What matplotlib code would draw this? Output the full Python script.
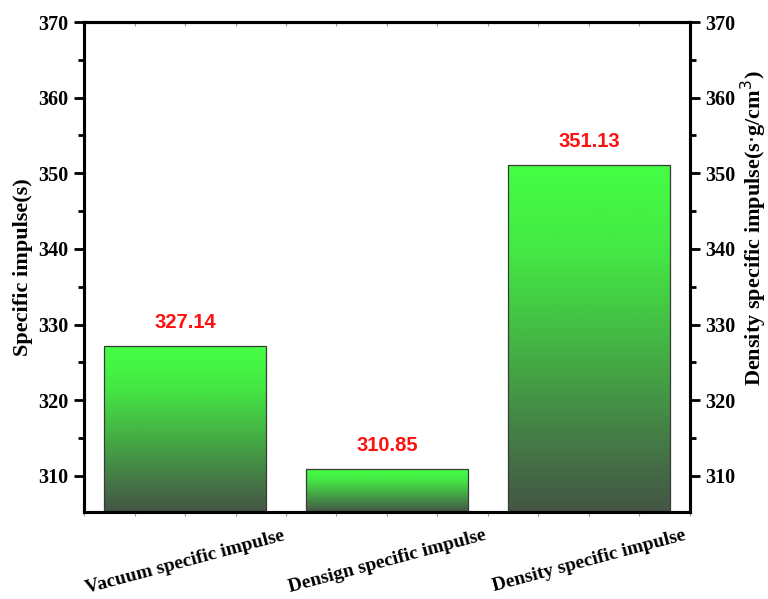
import numpy as np
import matplotlib
matplotlib.use("Agg")
import matplotlib.pyplot as plt
from matplotlib.colors import LinearSegmentedColormap
from matplotlib.ticker import MultipleLocator, NullFormatter

categories = ["Vacuum specific impulse", "Densign specific impulse", "Density specific impulse"]
values = [327.14, 310.85, 351.13]
y_ticks = [310, 320, 330, 340, 350, 360, 370]

serif = ["Liberation Serif", "DejaVu Serif"]
sans = ["Liberation Sans", "DejaVu Sans"]

fig = plt.figure(figsize=(7.68, 5.99), dpi=100)
ax = fig.add_axes([0.1094, 0.1452, 0.789, 0.818])

ymin, ymax = 305.2, 370
x = np.arange(len(categories))
width = 0.8

# green-to-dark vertical gradient used to fill each bar
cmap = LinearSegmentedColormap.from_list(
    "bar_grad",
    [(0.0, "#445544"), (0.2, "#457a47"), (0.5, "#44b844"),
     (0.75, "#44e844"), (1.0, "#44ff44")],
)
grad = np.linspace(0, 1, 256).reshape(-1, 1)

bars = ax.bar(x, [v - ymin for v in values], width=width, bottom=ymin,
              facecolor="none", edgecolor="#3a3a3a", linewidth=0.9, zorder=3)
for b, v in zip(bars, values):
    x0 = b.get_x()
    im = ax.imshow(grad, cmap=cmap, origin="lower", aspect="auto",
                   extent=[x0, x0 + width, ymin, v], zorder=2)
    im.set_clip_path(b)
    ax.annotate(f"{v:.2f}", (b.get_x() + width / 2, v), xytext=(0, 10),
                textcoords="offset points", ha="center", va="bottom",
                color="#ff1010", fontsize=14.5, fontweight="bold", family=sans)

ax.set_xlim(-0.5, 2.5)
ax.set_ylim(ymin, ymax)

ax.set_yticks(y_ticks)
ax.yaxis.set_minor_locator(MultipleLocator(5))
ax.set_yticklabels([str(t) for t in y_ticks], family=serif, fontweight="bold", fontsize=14.5)
ax.tick_params(axis="y", which="major", direction="out", length=7, width=2, pad=4)
ax.tick_params(axis="y", which="minor", direction="out", length=4, width=2)

ax.set_xticks(x)
ax.set_xticklabels(categories, rotation=15, ha="center", va="top",
                   family=serif, fontweight="bold", fontsize=14)
ax.xaxis.set_minor_locator(MultipleLocator(0.25))
ax.tick_params(axis="x", which="both", direction="out", length=3, width=0.8,
               color="#999999", pad=8)

# inward ticks along the top edge
top = ax.secondary_xaxis("top")
top.set_xticks(x)
top.xaxis.set_minor_locator(MultipleLocator(0.25))
top.xaxis.set_major_formatter(NullFormatter())
top.tick_params(axis="x", which="both", direction="in", length=3, width=0.8,
                color="#999999")
top.spines["top"].set_linewidth(2.2)

for s in ax.spines.values():
    s.set_linewidth(2.2)

ax.set_ylabel("Specific impulse(s)", family=serif, fontweight="bold", fontsize=16, labelpad=4)

ax2 = ax.twinx()
ax2.set_ylim(ymin, ymax)
ax2.set_yticks(y_ticks)
ax2.yaxis.set_minor_locator(MultipleLocator(5))
ax2.set_yticklabels([str(t) for t in y_ticks], family=serif, fontweight="bold", fontsize=14.5)
ax2.tick_params(axis="y", which="major", direction="out", length=7, width=2, pad=4)
ax2.tick_params(axis="y", which="minor", direction="out", length=4, width=2)
for s in ax2.spines.values():
    s.set_linewidth(2.2)
ax2.set_ylabel(r"Density specific impulse(s$\cdot$g/cm$^3$)", family=serif,
               fontweight="bold", fontsize=16)
ax2.yaxis.set_label_coords(1.08, 0.58)

fig.savefig("out.png", dpi=100)
